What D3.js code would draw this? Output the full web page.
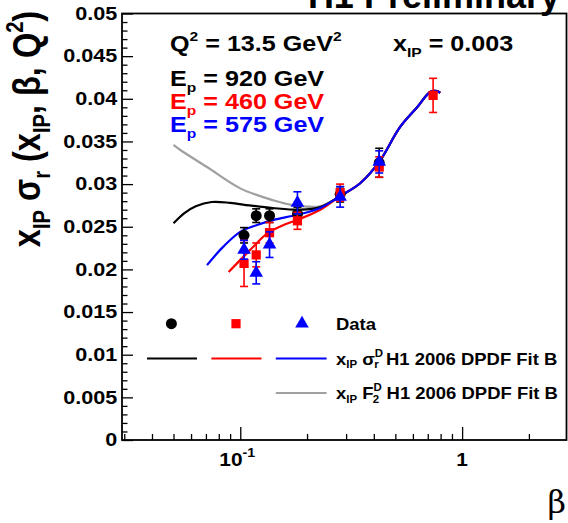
<!DOCTYPE html>
<html lang="en">
<head>
<meta charset="UTF-8">
<script src="https://d3js.org/d3.v7.min.js"></script>
<style>
    body { margin: 0; background: #fff; }
    text { font-family: 'Liberation Sans', Arial, sans-serif; font-weight: bold; }
</style>
</head>
<body>
<svg width="568" height="523"></svg>
<script>
// beta bins
const betaBins = [0.104, 0.118, 0.1355, 0.181, 0.282, 0.423, 0.74];

// measured x_IP * sigma_r (null = no point), total errors
const data920 = [0.0240, 0.0263, 0.0263, 0.0265, 0.0288, 0.0325, null];
const err920  = [0.0009, 0.0008, 0.0008, 0.0008, 0.0009, 0.0017, null];
const data460 = [0.0207, 0.0217, 0.0243, 0.0257, 0.0290, 0.0320, 0.0404];
const err460  = [0.0027, 0.0014, 0.0012, 0.0010, 0.0010, 0.0012, 0.0020];
const data575 = [0.0223, 0.0196, 0.0229, 0.0278, 0.0285, 0.0326, null];
const err575  = [0.0011, 0.0013, 0.0015, 0.0013, 0.0012, 0.0013, null];

// fit curves (beta, value)
const fitHigh = [[0.2822, 0.0286], [0.3471, 0.0301], [0.4228, 0.0326], [0.5256, 0.0367],
                 [0.627, 0.0390], [0.7177, 0.0408], [0.7717, 0.0409], [0.796, 0.0407]];
const fit920 = [[0.05, 0.0254], [0.056, 0.0266], [0.063, 0.0274], [0.0743, 0.0279], [0.09, 0.0278],
                [0.11, 0.0275], [0.14, 0.0272], [0.186, 0.0270], [0.2293, 0.0273]];
const fit460 = [[0.0886, 0.0197], [0.1035, 0.0215], [0.1168, 0.0229], [0.1319, 0.0242],
                [0.1567, 0.0252], [0.1806, 0.0258], [0.2293, 0.0270]];
const fit575 = [[0.0708, 0.0205], [0.0841, 0.0227], [0.1, 0.0244], [0.119, 0.0252],
                [0.1414, 0.0258], [0.1806, 0.0264], [0.2293, 0.0272]];
const fitF2  = [[0.05, 0.0346], [0.0537, 0.0340], [0.0708, 0.0320], [0.1, 0.0295],
                [0.141, 0.0281], [0.168, 0.0276], [0.2293, 0.0274]];

const yMajor = [0, 0.005, 0.01, 0.015, 0.02, 0.025, 0.03, 0.035, 0.04, 0.045, 0.05];
const yLabels = ["0", "0.005", "0.01", "0.015", "0.02", "0.025", "0.03", "0.035", "0.04", "0.045", "0.05"];
const xMajor = [0.1, 1];
const xMinor = [0.03, 0.04, 0.05, 0.06, 0.07, 0.08, 0.09, 0.2, 0.3, 0.4, 0.5, 0.6, 0.7, 0.8, 0.9, 2];

const pLeft = 122, pRight = 566.5, pTop = 13.5, pBottom = 440;
const sx = 1.17; // glyphs in the original are a bit wider than Liberation Sans
const svg = d3.select("svg");

const x = d3.scaleLog().domain([0.0293, 2.955]).range([pLeft, pRight]);
const y = d3.scaleLinear().domain([0, 0.05]).range([pBottom, pTop]);

// y axis: major + minor ticks pointing inside
const yMinor = d3.range(0, 51).map(i => i / 1000).filter(v => !yMajor.some(m => Math.abs(m - v) < 1e-9));
svg.append("g")
    .attr("transform", `translate(${pLeft},0)`)
    .call(d3.axisLeft(y).tickValues(yMinor).tickSize(-5.5).tickFormat(""))
    .call(g => g.select(".domain").remove());
svg.append("g")
    .attr("transform", `translate(${pLeft},0)`)
    .call(d3.axisLeft(y).tickValues(yMajor).tickSize(-11).tickPadding(4)
        .tickFormat((d, i) => yLabels[i]))
    .call(g => g.select(".domain").remove())
    .call(g => g.selectAll("text").attr("font-size", 18).attr("fill", "#000")
        .attr("transform", "scale(1.2,1)")
        .attr("font-family", "'Liberation Sans', Arial, sans-serif"));

// x axis
svg.append("g")
    .attr("transform", `translate(0,${pBottom})`)
    .call(d3.axisBottom(x).tickValues(xMinor).tickSize(-6).tickFormat(""))
    .call(g => g.select(".domain").remove());
svg.append("g")
    .attr("transform", `translate(0,${pBottom})`)
    .call(d3.axisBottom(x).tickValues(xMajor).tickSize(-13).tickFormat(""))
    .call(g => g.select(".domain").remove());
svg.selectAll(".tick line").attr("stroke", "#000").attr("stroke-width", 1.3);

// x tick labels
const lab1 = svg.append("text").attr("text-anchor", "middle").attr("font-size", 19)
    .attr("transform", `translate(${x(0.1) - 3},466) scale(1.1,1)`);
lab1.append("tspan").text("10");
lab1.append("tspan").attr("font-size", 13).attr("baseline-shift", 9).text("-1");
svg.append("text").attr("text-anchor", "middle").attr("font-size", 19)
    .attr("transform", `translate(${x(1)},466) scale(1.1,1)`).text("1");

// frame
svg.append("rect").attr("x", pLeft).attr("y", pTop).attr("width", pRight - pLeft).attr("height", pBottom - pTop)
    .attr("fill", "none").attr("stroke", "#000").attr("stroke-width", 1.8);

// curves
const line = d3.line().x(d => x(d[0])).y(d => y(d[1])).curve(d3.curveCatmullRom);
function drawFit(pts, color) {
    svg.append("path").datum(pts).attr("d", line)
        .attr("fill", "none").attr("stroke", color).attr("stroke-width", 2.2);
}
drawFit(fitF2.concat(fitHigh), "#a0a0a0");
drawFit(fit920.concat(fitHigh), "#000");
drawFit(fit460.concat(fitHigh), "#ff0000");
drawFit(fit575.concat(fitHigh), "#0000ff");

// data points with error bars
const symSize = { circle: 95, square: 85, triangle: 80 };
const symType = { circle: d3.symbolCircle, square: d3.symbolSquare, triangle: d3.symbolTriangle };
function drawData(vals, errs, color, shape) {
    const pts = betaBins.map((b, i) => ({ b: b, v: vals[i], e: errs[i] })).filter(d => d.v !== null);
    const g = svg.append("g").attr("stroke", color).attr("fill", color);
    pts.forEach(d => {
        const cx = x(d.b), y0 = y(d.v - d.e), y1 = y(d.v + d.e);
        g.append("line").attr("x1", cx).attr("x2", cx).attr("y1", y0).attr("y2", y1).attr("stroke-width", 1.6);
        [y0, y1].forEach(yy => g.append("line").attr("x1", cx - 4).attr("x2", cx + 4)
            .attr("y1", yy).attr("y2", yy).attr("stroke-width", 1.6));
    });
    g.selectAll("path.m").data(pts).enter().append("path")
        .attr("d", d3.symbol().type(symType[shape]).size(symSize[shape]))
        .attr("transform", d => `translate(${x(d.b)},${y(d.v)})`)
        .attr("stroke", "none");
}
drawData(data920, err920, "#000", "circle");
drawData(data460, err460, "#ff0000", "square");
drawData(data575, err575, "#0000ff", "triangle");

// text with sub/superscripts, stretched horizontally
function rich(xp, yp, parts, size, color, stretch) {
    const k = stretch || sx;
    const t = svg.append("text").attr("font-size", size).attr("fill", color)
        .attr("transform", `translate(${xp},${yp}) scale(${k},1)`);
    parts.forEach(p => {
        const s = t.append("tspan").text(p[0]);
        if (p[1] === "sub") s.attr("font-size", size * 0.62).attr("baseline-shift", -size * 0.25);
        if (p[1] === "sup") s.attr("font-size", size * 0.62).attr("baseline-shift", size * 0.45);
        if (p[2] !== undefined) s.attr("dx", p[2]);
    });
    return t;
}
rich(170, 51, [["Q"], ["2", "sup"], [" = 13.5 GeV"], ["2", "sup"]], 21.5, "#000");
rich(393, 51, [["x"], ["IP", "sub"], [" = 0.003"]], 21.5, "#000");
rich(170, 86, [["E"], ["p", "sub"], [" = 920 GeV"]], 21.5, "#000");
rich(170, 109, [["E"], ["p", "sub"], [" = 460 GeV"]], 21.5, "#ff0000");
rich(170, 132, [["E"], ["p", "sub"], [" = 575 GeV"]], 21.5, "#0000ff");

// legend
const legY1 = 323.7, legY2 = 358.5, legY3 = 393;
svg.append("path").attr("d", d3.symbol().type(d3.symbolCircle).size(symSize.circle)).attr("transform", `translate(171.4,${legY1})`);
svg.append("path").attr("d", d3.symbol().type(d3.symbolSquare).size(symSize.square)).attr("fill", "#ff0000").attr("transform", `translate(236,${legY1})`);
svg.append("path").attr("d", d3.symbol().type(d3.symbolTriangle).size(symSize.triangle)).attr("fill", "#0000ff").attr("transform", `translate(302,${legY1})`);
[[147, 197, "#000", legY2], [211.4, 261.5, "#ff0000", legY2], [275.8, 326.6, "#0000ff", legY2], [275.8, 326.6, "#a0a0a0", legY3]]
    .forEach(l => svg.append("line").attr("x1", l[0]).attr("x2", l[1]).attr("y1", l[3]).attr("y2", l[3])
        .attr("stroke", l[2]).attr("stroke-width", 2));
rich(336, legY1 + 6, [["Data"]], 16.5, "#000", 1.12);
rich(336, legY2 + 6, [["x"], ["IP", "sub"], [" σ"], ["D", "sup"], ["r", "sub", -8], [" H1 2006 DPDF Fit B", "", 2]], 16.5, "#000", 1.12);
rich(336, legY3 + 6, [["x"], ["IP", "sub"], [" F"], ["D", "sup"], ["2", "sub", -8], [" H1 2006 DPDF Fit B", "", 2]], 16.5, "#000", 1.12);

// y axis title (rotated; stretched along the page x direction)
rich(0, 0, [["x"], ["IP", "sub"], [" σ"], ["r", "sub"], [" (x"], ["IP", "sub"], [", β, Q"], ["2", "sup"], [")"]], 32.5, "#000")
    .attr("text-anchor", "middle").attr("transform", `translate(40,129) scale(${sx},1) rotate(-90)`);

// x axis title
svg.append("text").attr("x", 566).attr("y", 513).attr("text-anchor", "end")
    .attr("font-size", 32)
    .style("font-weight", "normal")
    .style("font-family", "'DejaVu Serif', 'Liberation Serif', serif").text("β");

// cut-off title
svg.append("text").attr("x", 560).attr("y", 8).attr("text-anchor", "end")
    .attr("font-size", 36).text("H1 Preliminary");
</script>
</body>
</html>
